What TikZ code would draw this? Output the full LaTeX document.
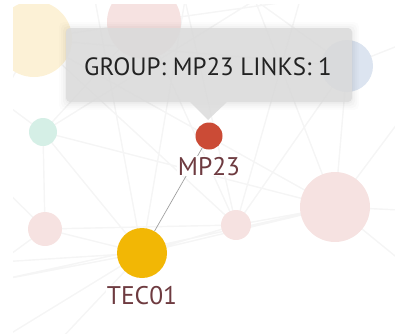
\documentclass[tikz,border=0pt]{standalone}
\usepackage{fontspec}
\setmainfont{PT Sans}
\definecolor{paleYellow}{HTML}{FCF1D6}
\definecolor{palePink}{HTML}{F6E2E1}
\definecolor{paleBlue}{HTML}{DCE4F0}
\definecolor{paleMint}{HTML}{D5EFE6}
\definecolor{tecYellow}{HTML}{F2B705}
\definecolor{mpRed}{HTML}{CB4B36}
\definecolor{labelCol}{HTML}{6E3B40}
\definecolor{tipGray}{HTML}{DCDCDC}
\definecolor{tipText}{HTML}{222222}
\definecolor{webCol}{HTML}{E8E8E8}
\begin{document}
\begin{tikzpicture}[x=1pt,y=-1pt,
  dot/.style={circle,inner sep=0pt,minimum size=#1},
  web/.style={draw=webCol,line width=1.4pt,opacity=0.45},
  link/.style={draw=gray!75,line width=0.7pt},
  lbl/.style={text=labelCol,font=\fontsize{25.5}{28}\selectfont,inner sep=0.5pt,fill=white},
  tipfill/.style={fill=tipGray,fill opacity=0.88},
  tiptext/.style={text=tipText,font=\fontsize{25}{28}\selectfont,inner sep=0pt}]
\useasboundingbox (0,0) rectangle (395,335);
% off-canvas ends of faint links
\coordinate (o1) at (0,262);
\coordinate (o2) at (0,280);
\coordinate (o3) at (0,340);
\coordinate (o4) at (95,0);
\coordinate (o5) at (185,0);
\coordinate (o6) at (255,0);
\coordinate (o7) at (300,0);
\coordinate (o8) at (400,120);
\coordinate (o9) at (400,210);
\coordinate (o10) at (400,45);
\coordinate (o11) at (0,100);
\coordinate (o12) at (0,185);
\coordinate (o13) at (400,260);
\coordinate (o14) at (60,340);
\begin{scope}
\clip (13,4) rectangle (395,333);
% node positions
\coordinate (yel) at (34,39);
\coordinate (pinkTop) at (144,22);
\coordinate (blue) at (347,66);
\coordinate (mint) at (43,132);
\coordinate (pinkL) at (45,229);
\coordinate (pinkM) at (236,225);
\coordinate (pinkB) at (335,207);
\coordinate (tec) at (142,253);
\coordinate (mp) at (209,136);
% faint web
\path[web] (tec) -- (o1) (tec) -- (o2) (tec) -- (o3) (tec) -- (pinkM) (tec) -- (pinkB)
  (tec) -- (mint) (tec) -- (pinkL) (tec) -- (o4) (tec) -- (o5) (tec) -- (o14)
  (pinkL) -- (mint) (pinkL) -- (pinkM) (pinkL) -- (o12) (pinkL) -- (o1)
  (mint) -- (o11) (mint) -- (pinkB) (mint) -- (o6) (mint) -- (pinkTop)
  (pinkM) -- (o5) (pinkM) -- (o7) (pinkM) -- (pinkB) (pinkM) -- (blue) (pinkM) -- (yel)
  (pinkB) -- (blue) (pinkB) -- (o9) (pinkB) -- (o8) (pinkB) -- (o6) (pinkB) -- (o13) (pinkB) -- (o2)
  (yel) -- (pinkTop) (yel) -- (pinkB) (yel) -- (o11) (pinkTop) -- (pinkM) (pinkTop) -- (o7)
  (blue) -- (o10) (blue) -- (yel) (blue) -- (o6);
% faded nodes
\node[dot=76pt,fill=paleYellow] (nYel) at (yel) {};
\node[dot=74pt,fill=palePink] (nPinkTop) at (pinkTop) {};
\node[dot=52pt,fill=paleBlue] (nBlue) at (blue) {};
\node[dot=28pt,fill=paleMint] (nMint) at (mint) {};
\node[dot=34pt,fill=palePink] (nPinkL) at (pinkL) {};
\node[dot=30pt,fill=palePink] (nPinkM) at (pinkM) {};
\node[dot=70pt,fill=palePink] (nPinkB) at (pinkB) {};
\end{scope}
% highlighted link and nodes
\node[dot=50pt,fill=tecYellow] (nTec) at (tec) {};
\node[dot=27pt,fill=mpRed] (nMp) at (mp) {};
\draw[link] (nMp) -- (nTec);
\node[lbl,anchor=base] (mpLbl) at (209,175) {MP23};
\node[lbl,anchor=base] (tecLbl) at (142,304) {TEC01};
% tooltip shadow
\foreach \s/\o in {7/0.012,5/0.015,3/0.02,1/0.025}{
  \fill[black,opacity=\o,rounded corners=5] (66-\s,28-\s+1) rectangle (352+\s,102+\s+1);
}
% tooltip
\fill[tipfill] (200,28) [rounded corners=4] -- (352,28) -- (352,102) [sharp corners] -- (227,102) -- (208,120) -- (190,102) [rounded corners=4] -- (66,102) -- (66,28) [sharp corners] -- cycle;
\node[tiptext,anchor=base] (tip) at (208,75) {GROUP: MP23 LINKS: 1};
\end{tikzpicture}
\end{document}
